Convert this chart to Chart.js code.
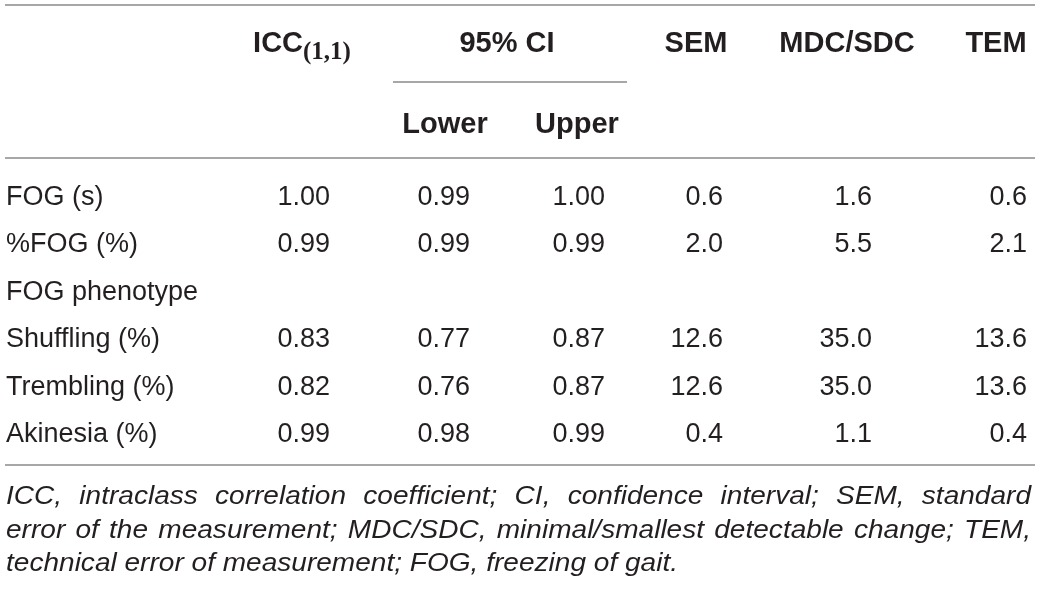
<!DOCTYPE html>
<html>
<head>
<meta charset="utf-8">
<script src="https://cdn.jsdelivr.net/npm/chart.js@4.4.1/dist/chart.umd.min.js"></script>
<style>
html,body{margin:0;padding:0;background:#fff;}
#wrap{width:1041px;height:589px;}
</style>
</head>
<body>
<div id="wrap"><canvas id="c" width="1041" height="589"></canvas></div>
<script>
// ---- data ----
const rowLabels = ["FOG (s)", "%FOG (%)", "FOG phenotype", "Shuffling (%)", "Trembling (%)", "Akinesia (%)"];
const iccValues = [1.00, 0.99, null, 0.83, 0.82, 0.99];
const ciLowerValues = [0.99, 0.99, null, 0.77, 0.76, 0.98];
const ciUpperValues = [1.00, 0.99, null, 0.87, 0.87, 0.99];
const semValues = [0.6, 2.0, null, 12.6, 12.6, 0.4];
const mdcValues = [1.6, 5.5, null, 35.0, 35.0, 1.1];
const temValues = [0.6, 2.1, null, 13.6, 13.6, 0.4];
const columnHeaders = ["ICC", "Lower", "Upper", "SEM", "MDC/SDC", "TEM"];
const iccSubscript = "(1,1)";
const groupHeader = "95% CI";
const footnoteLines = [
  "ICC, intraclass correlation coefficient; CI, confidence interval; SEM, standard",
  "error of the measurement; MDC/SDC, minimal/smallest detectable change; TEM,",
  "technical error of measurement; FOG, freezing of gait."
];

// ---- layout (positions / styles) ----
const L = {
  left: 5, right: 1035,
  lineTop: 5, lineCI: 82, lineHead: 158, lineBottom: 465,
  ciLineX0: 393, ciLineX1: 627,
  head1Base: 52, head2Base: 133,
  rowBase0: 205, rowPitch: 47.4,
  colRight: [330, 470, 605, 723, 872, 1027],
  colCenter: [302, 445, 577, 696, 847, 996],
  ciCenter: 507,
  footBase: [504, 537.5, 571],
  footLastWidth: 672,
  textColor: "#231f20",
  lineColor: "#8a8a8a"
};
const colSeries = [iccValues, ciLowerValues, ciUpperValues, semValues, mdcValues, temValues];
const colDecimals = [2, 2, 2, 1, 1, 1];
const rowY = i => L.rowBase0 + i * L.rowPitch;

const datasets = colSeries.map((vals, c) => ({
  label: columnHeaders[c],
  data: vals.map((v, i) => ({x: L.colRight[c], y: rowY(i), row: i, v: v})).filter(p => p.v != null),
  pointRadius: 0, pointHoverRadius: 0, showLine: false
}));

const tablePlugin = {
  id: "tableDraw",
  afterDraw(chart) {
    const ctx = chart.ctx;
    const X = v => chart.scales.x.getPixelForValue(v);
    const Y = v => chart.scales.y.getPixelForValue(v);
    ctx.save();
    // rules
    ctx.strokeStyle = L.lineColor;
    ctx.lineWidth = 1.5;
    const hline = (x0, x1, y) => { ctx.beginPath(); ctx.moveTo(X(x0), Y(y)); ctx.lineTo(X(x1), Y(y)); ctx.stroke(); };
    hline(L.left, L.right, L.lineTop);
    hline(L.ciLineX0, L.ciLineX1, L.lineCI);
    hline(L.left, L.right, L.lineHead);
    hline(L.left, L.right, L.lineBottom);

    ctx.fillStyle = L.textColor;
    ctx.textBaseline = "alphabetic";
    // headers
    const hFont = "bold 29px 'Liberation Sans', Arial, Helvetica, sans-serif";
    const subFont = "bold 25px 'Liberation Serif', 'Times New Roman', serif";
    ctx.font = hFont;
    const wI = ctx.measureText(columnHeaders[0]).width;
    ctx.font = subFont;
    const wS = ctx.measureText(iccSubscript).width;
    const iccX = L.colCenter[0] - (wI + wS) / 2;
    ctx.textAlign = "left";
    ctx.font = hFont;
    ctx.fillText(columnHeaders[0], X(iccX), Y(L.head1Base));
    ctx.font = subFont;
    ctx.fillText(iccSubscript, X(iccX + wI), Y(L.head1Base + 7));
    ctx.font = hFont;
    ctx.textAlign = "center";
    ctx.fillText(groupHeader, X(L.ciCenter), Y(L.head1Base));
    ctx.fillText(columnHeaders[1], X(L.colCenter[1]), Y(L.head2Base));
    ctx.fillText(columnHeaders[2], X(L.colCenter[2]), Y(L.head2Base));
    for (let c = 3; c < 6; c++) ctx.fillText(columnHeaders[c], X(L.colCenter[c]), Y(L.head1Base));

    // row labels
    const bFont = "27px 'Liberation Sans', Arial, Helvetica, sans-serif";
    ctx.font = bFont;
    ctx.textAlign = "left";
    rowLabels.forEach((lab, i) => ctx.fillText(lab, X(L.left + 1), Y(rowY(i))));

    // cells, from dataset elements
    ctx.textAlign = "right";
    chart.data.datasets.forEach((ds, c) => {
      const meta = chart.getDatasetMeta(c);
      meta.data.forEach((el, j) => {
        const p = ds.data[j];
        if (!p || p.v == null) return;
        ctx.fillText(p.v.toFixed(colDecimals[c]), el.x, el.y);
      });
    });

    // footnote (italic, justified)
    const fFont = "italic 26.5px 'Liberation Sans', Arial, Helvetica, sans-serif";
    ctx.font = fFont;
    ctx.textAlign = "left";
    const sx = L.footLastWidth / ctx.measureText(footnoteLines[2]).width;
    footnoteLines.forEach((line, k) => {
      const y = Y(L.footBase[k]);
      if (k < footnoteLines.length - 1) {
        const words = line.split(" ");
        const ws = words.map(w => ctx.measureText(w).width * sx);
        const total = ws.reduce((a, b) => a + b, 0);
        const gap = ((L.right - 5) - L.left - total) / (words.length - 1);
        let x = L.left + 1;
        words.forEach((w, j) => {
          ctx.save(); ctx.translate(X(x), y); ctx.scale(sx, 1); ctx.fillText(w, 0, 0); ctx.restore();
          x += ws[j] + gap;
        });
      } else {
        ctx.save(); ctx.translate(X(L.left + 1), y); ctx.scale(sx, 1); ctx.fillText(line, 0, 0); ctx.restore();
      }
    });
    ctx.restore();
  }
};

new Chart(document.getElementById("c"), {
  type: "scatter",
  data: { datasets },
  options: {
    responsive: false,
    animation: false,
    events: [],
    layout: { padding: 0 },
    scales: {
      x: { type: "linear", min: 0, max: 1041, display: false },
      y: { type: "linear", min: 0, max: 589, reverse: true, display: false }
    },
    plugins: { legend: { display: false }, tooltip: { enabled: false } }
  },
  plugins: [tablePlugin]
});
</script>
</body>
</html>
